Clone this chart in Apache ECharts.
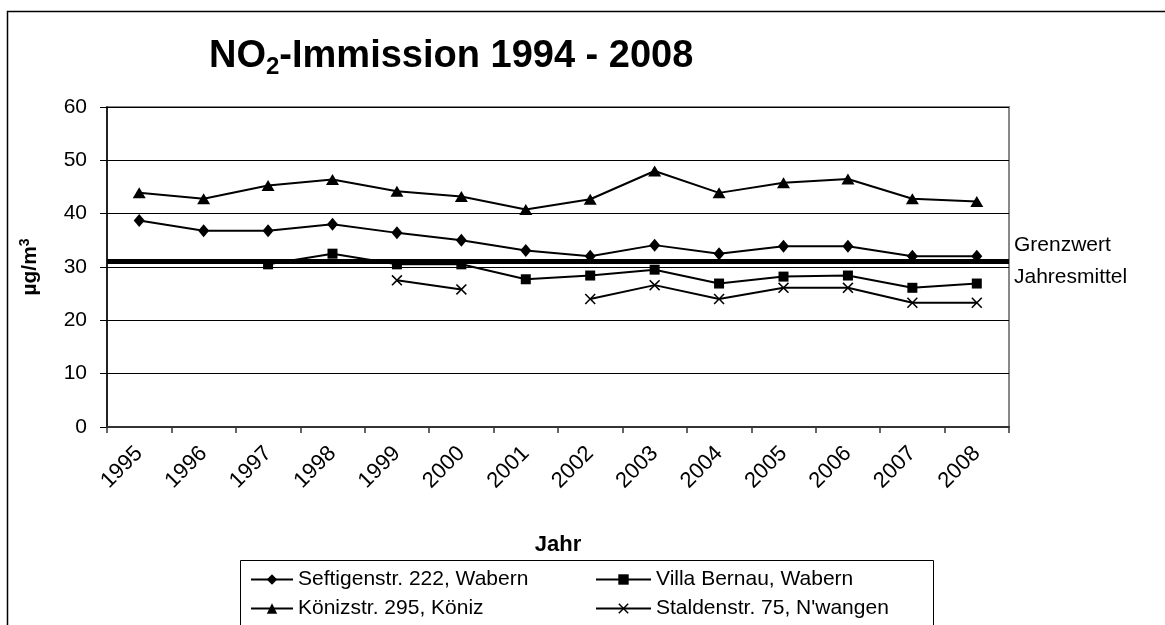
<!DOCTYPE html>
<html>
<head>
<meta charset="utf-8">
<title>NO2-Immission 1994 - 2008</title>
<script src="https://cdn.jsdelivr.net/npm/echarts@6/dist/echarts.min.js"></script>
<style>
  html, body { margin: 0; padding: 0; background: #fff; }
  #main { width: 1165px; height: 625px; }
</style>
</head>
<body>
<div id="main"></div>
<script>
// Jahre (Kategorien)
const years = ['1995', '1996', '1997', '1998', '1999', '2000', '2001', '2002', '2003', '2004', '2005', '2006', '2007', '2008']
const yTicks = [0, 10, 20, 30, 40, 50, 60]

// Messwerte in µg/m3, null = keine Messung
const seftigen = [38.7, 36.8, 36.8, 38.0, 36.4, 35.0, 33.1, 32.0, 34.1, 32.5, 33.9, 33.9, 32.0, 32.0]
const villaBernau = [null, null, 30.5, 32.5, 30.5, 30.5, 27.7, 28.4, 29.5, 26.9, 28.2, 28.4, 26.1, 26.9]
const koeniz = [43.9, 42.8, 45.3, 46.4, 44.2, 43.2, 40.8, 42.7, 48.0, 43.9, 45.8, 46.5, 42.8, 42.3]
const stalden = [null, null, null, null, 27.5, 25.8, null, 24.0, 26.6, 24.0, 26.1, 26.1, 23.3, 23.3]
const grenzwert = 31

const names = ['Seftigenstr. 222, Wabern', 'Villa Bernau, Wabern', 'Könizstr. 295, Köniz', "Staldenstr. 75, N'wangen"]

const font = '"Liberation Sans", Arial, sans-serif'
const crossPath = 'path://M0,1L1,0L5,4L9,0L10,1L6,5L10,9L9,10L5,6L1,10L0,9L4,5Z'

function lineSeries (name, data, symbol, size) {
  return {
    name: name,
    type: 'line',
    data: data,
    symbol: symbol,
    symbolSize: size,
    showAllSymbol: true,
    connectNulls: false,
    lineStyle: { color: '#000', width: 2 },
    itemStyle: { color: '#000' },
    emphasis: { disabled: true }
  }
}

const chart = echarts.init(document.getElementById('main'), null, { renderer: 'canvas' })

const series = [
  lineSeries(names[0], seftigen, 'diamond', [11, 13]),
  lineSeries(names[1], villaBernau, 'rect', 10),
  lineSeries(names[2], koeniz, 'triangle', [13, 11]),
  lineSeries(names[3], stalden, crossPath, 11)
]
// Grenzwert als dicke Linie
series[0].markLine = {
  silent: true,
  symbol: 'none',
  lineStyle: { color: '#000', width: 5, type: 'solid' },
  label: {
    show: true,
    position: 'end',
    distance: 5,
    formatter: 'Grenzwert\nJahresmittel',
    fontFamily: font,
    fontSize: 21,
    lineHeight: 32,
    color: '#000'
  },
  data: [{ yAxis: grenzwert }]
}

const legendText = { fontFamily: font, fontSize: 21, color: '#000' }

chart.setOption({
  animation: false,
  backgroundColor: '#fff',
  title: {
    text: '{a|NO}{s|2}{a|-Immission 1994 - 2008}',
    left: 204,
    top: 30,
    textStyle: {
      rich: {
        a: { fontFamily: font, fontSize: 38, fontWeight: 'bold', color: '#000', lineHeight: 44 },
        s: { fontFamily: font, fontSize: 24, fontWeight: 'bold', color: '#000', lineHeight: 24, verticalAlign: 'bottom' }
      }
    }
  },
  graphic: [
    // Rahmen um das Diagramm
    { type: 'rect', shape: { x: 7.5, y: 11.5, width: 1300, height: 800 }, style: { fill: 'none', stroke: '#000', lineWidth: 1.5 }, silent: true },
    // Rahmen um die Legende
    { type: 'rect', shape: { x: 240.5, y: 560.5, width: 693, height: 200 }, style: { fill: 'none', stroke: '#000', lineWidth: 1 }, silent: true }
  ],
  legend: [
    {
      data: [names[0], names[2]],
      orient: 'vertical',
      left: 250,
      top: 569,
      padding: 0,
      itemWidth: 42,
      itemHeight: 13,
      itemGap: 8,
      textStyle: legendText,
      selectedMode: false
    },
    {
      data: [names[1], names[3]],
      orient: 'vertical',
      left: 595,
      top: 569,
      padding: 0,
      itemWidth: 55,
      itemHeight: 13,
      itemGap: 8,
      textStyle: legendText,
      selectedMode: false
    }
  ],
  grid: {
    left: 107,
    top: 107,
    right: 156,
    bottom: 198,
    show: true,
    borderColor: '#888',
    borderWidth: 2,
    containLabel: false
  },
  xAxis: {
    type: 'category',
    data: years,
    boundaryGap: true,
    name: 'Jahr',
    nameLocation: 'middle',
    nameGap: 107,
    nameTextStyle: { fontFamily: font, fontSize: 22, fontWeight: 'bold', color: '#000' },
    axisLine: { lineStyle: { color: '#333', width: 2 } },
    axisTick: { show: true, interval: 0, length: 6, lineStyle: { color: '#333', width: 1.5 } },
    axisLabel: { interval: 0, rotate: 45, margin: 23, fontFamily: font, fontSize: 22, color: '#000' },
    splitLine: { show: false }
  },
  yAxis: {
    type: 'value',
    min: yTicks[0],
    max: yTicks[yTicks.length - 1],
    interval: 10,
    name: '{a|µg/m}{s|3}',
    nameLocation: 'middle',
    nameGap: 64,
    nameTextStyle: {
      rich: {
        a: { fontFamily: font, fontSize: 21, fontWeight: 'bold', color: '#000', lineHeight: 25 },
        s: { fontFamily: font, fontSize: 14, fontWeight: 'bold', color: '#000', lineHeight: 14, verticalAlign: 'top' }
      }
    },
    axisLine: { show: true, lineStyle: { color: '#000', width: 1.5 } },
    axisTick: { show: true, length: 7, lineStyle: { color: '#000' } },
    axisLabel: { margin: 20, fontFamily: font, fontSize: 21, color: '#000' },
    splitLine: { show: true, lineStyle: { color: '#000', width: 1 } }
  },
  series: series
})
</script>
</body>
</html>
